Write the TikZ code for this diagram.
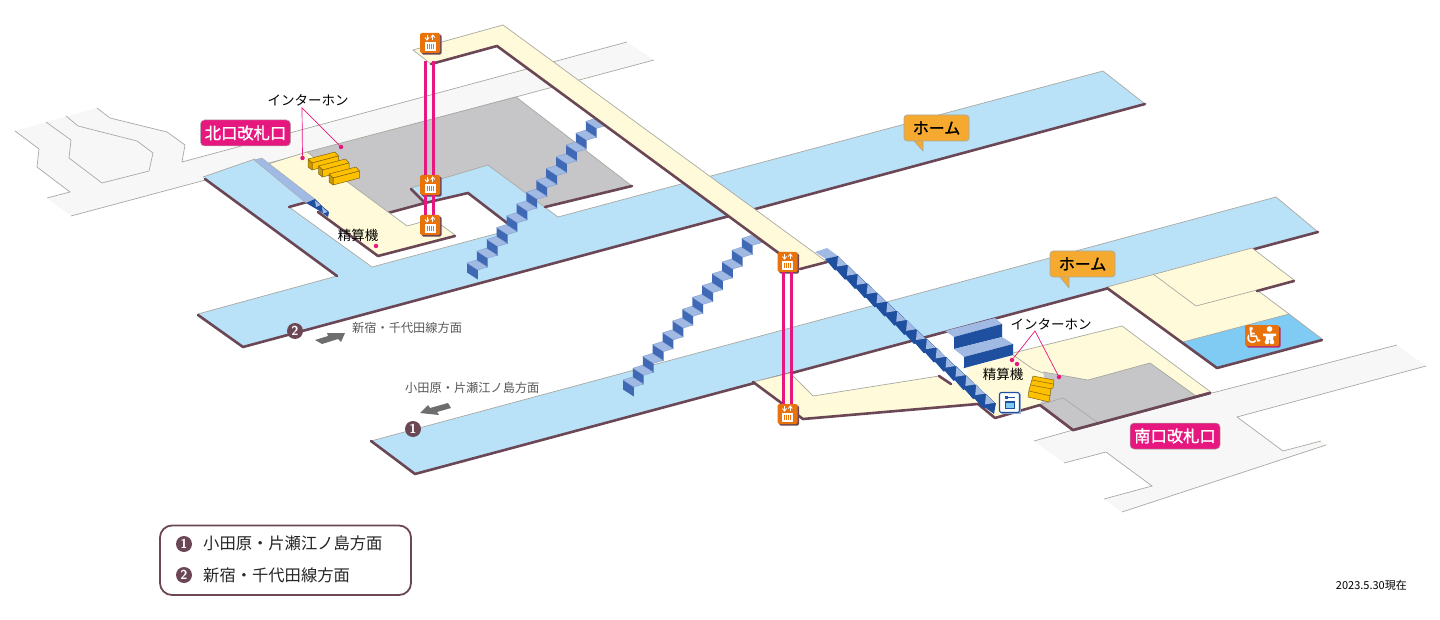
\documentclass[tikz,border=0pt]{standalone}
\usepackage{fontspec}
\setmainfont{Noto Sans CJK JP}
\newfontfamily\symfont{DejaVu Sans}
\newfontfamily\medfont[FakeBold=1.4]{Noto Sans CJK JP}
\usetikzlibrary{shadows,calc}
\definecolor{darkedge}{HTML}{6B4756}
\definecolor{thinedge}{HTML}{A9A9A2}
\definecolor{platblue}{HTML}{B9E2F8}
\definecolor{cream}{HTML}{FFFBDA}
\definecolor{floorgray}{HTML}{C6C6C8}
\definecolor{street}{HTML}{F7F7F7}
\definecolor{pinkline}{HTML}{E6187F}
\definecolor{elevorange}{HTML}{E8720C}
\definecolor{callorange}{HTML}{F5AA2F}
\definecolor{stepdark}{HTML}{3F68B5}
\definecolor{stepdeep}{HTML}{1F4F9F}
\definecolor{steplight}{HTML}{A0BAE4}
\definecolor{boxyellow}{HTML}{FFC000}
\definecolor{boxedge}{HTML}{7F6410}
\definecolor{wcblue}{HTML}{7FCBF4}
\definecolor{arrowgray}{HTML}{6E6E6E}
\definecolor{labelgray}{HTML}{595959}
\tikzset{
  thin edge/.style={draw=thinedge,line width=0.7pt},
  dark edge/.style={draw=darkedge,line width=2.6pt,line cap=round,line join=round},
  pink rail/.style={draw=pinkline,line width=3pt},
  pink lead/.style={draw=pinkline,line width=0.7pt},
  pink dot/.style={circle,fill=pinkline,inner sep=0pt,minimum size=4.5pt},
  elevbox/.style={rectangle,rounded corners=1.5pt,fill=elevorange,minimum size=20pt,inner sep=0pt,
     drop shadow={shadow xshift=1.6pt,shadow yshift=-1.6pt,fill=darkedge,opacity=1}},
  callout/.style={rectangle,rounded corners=3pt,fill=callorange,draw=thinedge,line width=0.6pt,
     minimum width=65pt,minimum height=26pt,inner sep=0pt,font=\medfont\fontsize{16}{16}\selectfont},
  gatebadge/.style={rectangle,rounded corners=4pt,fill=pinkline,draw=thinedge,line width=0.5pt,
     minimum width=90pt,minimum height=26pt,inner sep=0pt,text=white,font=\medfont\fontsize{16.3}{16}\selectfont},
  smalltext/.style={inner sep=0pt,font=\fontsize{13.5}{14}\selectfont},
  dirtext/.style={inner sep=0pt,text=labelgray,font=\fontsize{12.2}{13}\selectfont},
  legendtext/.style={inner sep=0pt,anchor=west,text=black!85,font=\fontsize{16.3}{17}\selectfont},
  numdot/.style={circle,fill=darkedge,text=white,inner sep=0pt,minimum size=16pt,font=\sffamily\bfseries\fontsize{13}{12}\selectfont},
  elevicon/.pic={
    \draw[white,line width=0.9pt] (-3,-8) -- (-3,-3.5);
    \draw[white,line width=0.9pt] (-5,-5.5) -- (-3,-3) -- (-1,-5.5);
    \draw[white,line width=0.9pt] (2.8,-3) -- (2.8,-8);
    \draw[white,line width=0.9pt] (0.8,-5.5) -- (2.8,-8) -- (4.8,-5.5);
    \fill[white] (-5.5,-1) rectangle (5.5,8);
    \foreach \q in {-3,-1,1,3}{\draw[elevorange,line width=0.7pt] (\q,0.8) -- (\q,6.4);}
  },
  nbox/.pic={
    \filldraw[fill=boxyellow,draw=boxedge,line width=0.5pt,line join=round] (0,0) -- (27,-7) -- (30.5,-3) -- (4,4) -- cycle;
    \filldraw[fill=boxyellow,draw=boxedge,line width=0.5pt,line join=round] (4,4) -- (30.5,-3) -- (30.5,4) -- (4,11) -- cycle;
    \filldraw[fill=boxyellow!80!black,draw=boxedge,line width=0.5pt,line join=round] (0,0) -- (4,4) -- (4,11) -- (0,8) -- cycle;
  }
}
\newcommand{\flight}[3]{% x y count-1
  \foreach \i in {#3,...,0}{
    \fill[stepdark] (#1+9.9*\i,#2-11.8*\i) -- ++(10.8,7) -- ++(0,9.5) -- ++(-10.8,-7) -- cycle;
    \filldraw[fill=steplight,draw=stepdark!70,line width=0.3pt] (#1+9.9*\i,#2-11.8*\i) -- ++(9.5,-3) -- ++(11,7) -- ++(-9.7,3) -- cycle;
  }}
\begin{document}
\begin{tikzpicture}[x=1pt,y=-1pt]
\useasboundingbox (0,0) rectangle (1440,620);
\fill[white] (0,0) rectangle (1440,620);
% ---------- streets
\fill[street] (15,131) -- (97,108) -- (110,118) -- (167,132) -- (185,145) -- (182,162) -- (627,42) -- (654,60) -- (71,216) -- (47,198) -- (70,192) -- (37,167) -- (39,149) -- cycle;
\draw[thin edge] (15,131) -- (39,149) -- (37,167) -- (70,192) -- (47,198);
\draw[thin edge] (71,216) -- (654,60);
\draw[thin edge] (97,108) -- (110,118) -- (167,132) -- (185,145) -- (182,162) -- (627,42);
\draw[thin edge] (46,122) -- (71,140) -- (69,158) -- (102,183) -- (149,171) -- (153,153) -- (137,141) -- (78,126) -- (66,116);
\fill[street] (1034,441) -- (1212,393) -- (1397,345) -- (1426,366) -- (1237,417) -- (1283,451) -- (1321,441) -- (1326,445) -- (1122,512) -- (1104,499) -- (1152,486) -- (1106,452) -- (1064,463) -- cycle;
\draw[thin edge] (1034,441) -- (1073,430);
\draw[thin edge] (1212,393) -- (1397,345);
\draw[thin edge] (1426,366) -- (1237,417) -- (1283,451) -- (1321,441);
\draw[thin edge] (1326,445) -- (1122,512);
\draw[thin edge] (1104,499) -- (1152,486) -- (1106,452) -- (1064,463);
% ---------- north platform
\fill[platblue] (198,314) -- (337,276) -- (203,177) -- (255,159) -- (320,200) -- (411,188) -- (488,165) -- (558,217) -- (1103,71) -- (1145,104) -- (243,347) -- cycle;
\draw[thin edge] (198,314) -- (337,276);
\draw[thin edge] (203,177) -- (255,159);
\draw[thin edge] (558,217) -- (1103,71) -- (1145,104);
% hole
\fill[white] (289,207) -- (372,267) -- (510,230) -- (505,222) -- (468,193) -- (425,203) -- (388,213) -- (330,190) -- cycle;
\draw[thin edge] (289,207) -- (372,267) -- (510,230);
\draw[dark edge] (198,315) -- (243,347) -- (1145,104);
\draw[dark edge] (205,179) -- (337,276);
% gray concourse north
\fill[floorgray] (307,152) -- (516,97) -- (632,186) -- (545,207) -- (488,165) -- (411,188) -- (425,202) -- (388,213) -- cycle;
\draw[thin edge] (307,152) -- (516,97) -- (632,186);
\draw[thin edge] (411,188) -- (488,165) -- (558,217);
\draw[dark edge] (545,207) -- (632,186);
\draw[dark edge] (411,189) -- (425,203) -- (468,193) -- (507,223);
\draw[dark edge] (388,213) -- (425,203);
% cream north
\fill[cream] (268,164) -- (307,152) -- (407,226) -- (433,219) -- (455,235) -- (378,256) -- (322,213) -- (313,198) -- cycle;
\draw[thin edge] (268,164) -- (307,152) -- (407,226) -- (433,219) -- (455,235);
\draw[dark edge] (289,207) -- (307,202);
\draw[dark edge] (318,212) -- (378,256) -- (455,236);
% stripe + short stairs
\filldraw[fill=steplight,draw=thinedge,line width=0.3pt] (254,160) -- (262,158) -- (315,199) -- (306,203) -- cycle;
\fill[stepdeep] (306,203) -- (315,199) -- (322,206) -- (329,212) -- (328,217) -- (318,210) -- cycle;
\fill[steplight] (315,200.5) -- (320.5,205) -- (316,207) -- cycle;
\fill[steplight] (322,207) -- (327.5,212) -- (323,213.5) -- cycle;
% north boxes
\pic at (308,159) {nbox};
\pic at (318.5,166) {nbox};
\pic at (329,174) {nbox};
% stairs A
\flight{467}{263}{12}
% south platform
\fill[platblue] (371,441) -- (1276,197) -- (1318,232) -- (415,474) -- cycle;
\draw[thin edge] (371,441) -- (1276,197) -- (1318,232);
\draw[dark edge] (371,441) -- (415,474) -- (1318,232);
% stairs B
\flight{623}{380}{12}
% overpass
\fill[cream] (413,50) -- (503,25) -- (827,262) -- (800,269) -- (497,46) -- (431,64) -- cycle;
\draw[thin edge] (431,64) -- (413,50) -- (503,25) -- (827,262);
\draw[dark edge] (431,64) -- (497,46) -- (780,254);
\draw[dark edge] (800,269) -- (827,262);
% south cream
\fill[cream] (753,382) -- (790,373) -- (813,396) -- (939,376) -- (952,384) -- (970,370) -- (963,368) -- (1013,353) -- (1122,326) -- (1212,393) -- (1073,430) -- (1040,405) -- (995,418) -- (978,404) -- (803,419) -- cycle;
\draw[thin edge] (753,382) -- (790,373) -- (813,396) -- (939,376);
\draw[thin edge] (963,368) -- (1013,353) -- (1122,326) -- (1212,393);
\draw[thin edge] (1013,355) -- (1033,369) -- (1043,373);
\draw[dark edge] (753,382) -- (803,419) -- (978,404) -- (995,418) -- (1040,405) -- (1073,430) -- (1210,393);
\draw[dark edge] (939,376) -- (951,384);
% gray south
\fill[floorgray] (1043,372) -- (1088,380) -- (1150,363) -- (1196,396) -- (1073,429) -- (1040,404) -- (1048,392) -- cycle;
\draw[thin edge] (1043,372) -- (1088,380) -- (1150,363) -- (1196,396);
\draw[thin edge] (1042,404) -- (1063,398) -- (1097,422);
\draw[dark edge] (1040,405) -- (1073,430) -- (1210,393);
% right cream
\fill[cream] (1107,287) -- (1252,248) -- (1294,280) -- (1257,291) -- (1289,314) -- (1183,342) -- cycle;
\draw[thin edge] (1107,287) -- (1252,248) -- (1294,280);
\draw[thin edge] (1153,274) -- (1196,306) -- (1257,290) -- (1289,314);
\fill[wcblue] (1183,342) -- (1289,314) -- (1322,339) -- (1217,367) -- cycle;
\draw[thin edge] (1183,342) -- (1289,314) -- (1322,339);
\draw[dark edge] (1107,288) -- (1217,368) -- (1322,340);
\draw[dark edge] (1257,291) -- (1294,281);
% block stairs
\fill[steplight] (945,331) -- (995,318) -- (1002,324) -- (954,337) -- cycle;
\fill[stepdeep] (954,337) -- (1002,324) -- (1002,337) -- (954,349) -- cycle;
\fill[steplight] (954,349) -- (1002,337) -- (1013,344) -- (964,357) -- cycle;
\fill[stepdeep] (964,357) -- (1013,344) -- (1013,355) -- (964,368) -- cycle;
% stairs C
\fill[steplight] (815,252) -- (827,248) -- (838,256) -- (826,259) -- cycle;
\foreach \i in {0,...,15}{
  \fill[stepdeep] (825+9.87*\i,259+9.19*\i) -- (838+9.87*\i,256+9.19*\i) -- (847.87+9.87*\i,266+9.19*\i) -- (835+9.87*\i,270.5+9.19*\i) -- cycle;
  \fill[steplight] (838+9.87*\i,256.5+9.19*\i) -- (846.5+9.87*\i,265+9.19*\i) -- (837+9.87*\i,266.5+9.19*\i) -- cycle;
}
\fill[stepdeep] (983,406) -- (996,403) -- (994,414) -- cycle;
% south boxes
\filldraw[fill=boxyellow,draw=boxedge,line width=0.5pt,line join=round] (1033,376) -- (1054,380) -- (1053,388) -- (1051,388) -- (1050,396) -- (1049,402) -- (1028,397) -- (1029,390) -- (1031,383) -- cycle;
\draw[boxedge,line width=0.5pt] (1032,380) -- (1053,384);
\draw[boxedge,line width=0.5pt] (1031,385) -- (1052,389);
\draw[boxedge,line width=0.5pt] (1029,391) -- (1051,396);
% ---------- elevators
\node[elevbox] (e1) at (430,43) {};
\node[elevbox] (e2) at (430,185) {};
\node[elevbox] (e3) at (430,225) {};
\node[elevbox] (e4) at (787.5,262) {};
\node[elevbox] (e5) at (787.5,414) {};
\draw[pink rail] ([xshift=-4.5pt]e1.south) ++(0,8) -- ([xshift=-4.5pt]e2.north);
\draw[pink rail] ([xshift=3.5pt]e1.south) ++(0,8) -- ([xshift=3.5pt]e2.north);
\draw[pink rail] ([xshift=-4.5pt]e2.south) -- ([xshift=-4.5pt]e3.north);
\draw[pink rail] ([xshift=3.5pt]e2.south) -- ([xshift=3.5pt]e3.north);
\draw[pink rail] ([xshift=-4.5pt]e4.south) -- ([xshift=-4.5pt]e5.north);
\draw[pink rail] ([xshift=3.5pt]e4.south) -- ([xshift=3.5pt]e5.north);
\foreach \e in {e1,e2,e3,e4,e5}{\pic at (\e) {elevicon};}
% ---------- callouts
\fill[callorange,draw=thinedge,line width=0.6pt] (913,140) -- (923,151) -- (923,140) -- cycle;
\node[callout] (home1) at (936.5,128) {ホーム};
\fill[callorange,draw=thinedge,line width=0.6pt] (1059,276) -- (1069,288) -- (1069,276) -- cycle;
\node[callout] (home2) at (1082.5,264) {ホーム};
\node[gatebadge] (gateN) at (245.5,133) {北口改札口};
\node[gatebadge] (gateS) at (1175,436) {南口改札口};
% ---------- intercom labels
\node[smalltext] (icN) at (308,100) {インターホン};
\coordinate (apexN) at (302,108);
\node[pink dot] (dotN1) at (302.5,158) {};
\node[pink dot] (dotN2) at (341,147) {};
\draw[pink lead] (dotN1) -- (apexN) -- (dotN2);
\node[smalltext] (icS) at (1051,324) {インターホン};
\coordinate (apexS) at (1035,331);
\node[pink dot] (dotS1) at (1012,360) {};
\node[pink dot] (dotS2) at (1059,377) {};
\draw[pink lead] (dotS1) -- (apexS) -- (dotS2);
\node[smalltext] (faN) at (358,235) {精算機};
\node[pink dot] (dotF1) at (376,246) {};
\node[smalltext] (faS) at (1003,374) {精算機};
\node[pink dot] (dotF2) at (1017,364) {};
% ---------- direction labels
\node[numdot] (n2a) at (295,331) {2};
\node[numdot] (n1a) at (413,429) {1};
\node[dirtext,anchor=west] (d2) at (352,328) {新宿・千代田線方面};
\node[dirtext,anchor=west] (d1) at (405,388) {小田原・片瀬江ノ島方面};
\fill[arrowgray] (315,340) -- (328,336) -- (327,333) -- (345,333) -- (341,342) -- (338,339) -- (322,344) -- cycle;
\fill[arrowgray] (420,413) -- (428,405) -- (430,408) -- (448,403) -- (451,408) -- (437,412) -- (439,415) -- cycle;
% ---------- toilet icon
\node[rectangle,rounded corners=1.5pt,fill=elevorange,minimum width=34pt,minimum height=21pt,inner sep=0pt,
  drop shadow={shadow xshift=1.5pt,shadow yshift=-1.5pt,fill=pinkline!60!darkedge,opacity=1}] (wc) at (1262,335.5) {};
\node[inner sep=0pt,text=white,font=\symfont\fontsize{22}{22}\selectfont] (wcglyph) at (1254,335.5) {♿};
\fill[white] (1269.5,329) circle (2.8pt);
\fill[white] (1263,333.5) -- (1276,333.5) -- (1276,336) -- (1273.5,336) -- (1273,340) -- (1266,340) -- (1265.5,336) -- (1263,336) -- cycle;
\fill[white] (1267,342) circle (2.3pt) (1272,342) circle (2.3pt);
% ---------- ticket machine icon
\fill[stepdeep!45] (1000.5,394) rectangle (1021,414);
\node[rectangle,rounded corners=2pt,fill=white,draw=stepdeep,line width=1.1pt,minimum size=20pt,inner sep=0pt] (tm) at (1009.5,402.5) {};
\fill[stepdeep] (1005,396.5) rectangle (1015,398);
\fill[stepdeep] (1005,395.5) rectangle (1007.5,399);
\fill[stepdeep] (1004.5,401) rectangle (1015,409);
\fill[wcblue] (1006,403) rectangle (1013.5,407.5);
% ---------- legend
\draw[draw=darkedge,line width=1.8pt,fill=white,rounded corners=12pt] (160,525.5) rectangle (411,595);
\node[numdot] (n1b) at (184,544) {1};
\node[numdot] (n2b) at (184,575) {2};
\node[legendtext] (l1) at (203,543) {小田原・片瀬江ノ島方面};
\node[legendtext] (l2) at (203,575) {新宿・千代田線方面};
\node[inner sep=0pt,anchor=east,font=\fontsize{11}{11}\selectfont] (date) at (1407,585) {2023.5.30現在};
\end{tikzpicture}
\end{document}
